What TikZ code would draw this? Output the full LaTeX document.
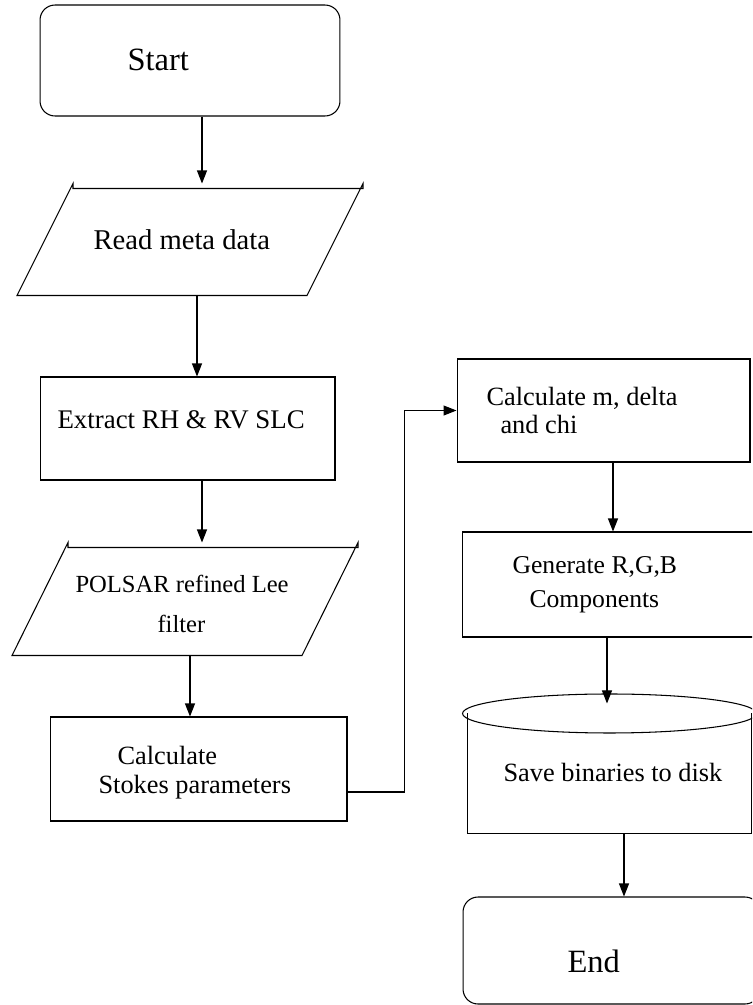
\documentclass[tikz,border=0pt]{standalone}
\usepackage{fontspec}
\setmainfont{Liberation Serif}
\usepackage{tikz}
\usetikzlibrary{positioning,calc,shapes.geometric,arrows.meta}

\begin{document}
\begin{tikzpicture}[x=0.02cm,y=-0.02cm,line width=0.6pt]
        \tikzstyle{box} = [draw,rectangle,inner sep=0pt]
        \tikzstyle{term} = [box,rounded corners=0.3cm]
        \tikzstyle{io} = [rectangle,inner sep=0pt,minimum width=5.78cm]
        \tikzstyle{txt} = [anchor=base west,inner sep=0pt]
        \tikzstyle{arr} = [-{Triangle[length=2.6mm,width=2mm]}]
        \useasboundingbox (0,0) rectangle (752,1005);
        \clip (0,0) rectangle (752,1005);
        % left column
        \node [term, minimum width=6cm, minimum height=2.22cm] (start) at (190,60.5) {};
        \node [io, minimum height=2.22cm] (read) at (190,239.5) {};
        \node [box, minimum width=5.9cm, minimum height=2.06cm] (extract) at (187.5,428.5) {};
        \node [io, minimum height=2.24cm] (lee) at (185,599) {};
        \node [box, minimum width=5.94cm, minimum height=2.08cm] (stokes) at (198.5,769) {};
        % right column
        \node [box, minimum width=5.86cm, minimum height=2.06cm] (mdelta) at (603.5,410.5) {};
        \node [box, minimum width=5.9cm, minimum height=2.1cm] (rgb) at (609.5,584.5) {};
        \node [rectangle, inner sep=0pt, minimum width=5.66cm, minimum height=2.38cm] (disk) at (609.5,773.5) {};
        \node [draw, ellipse, inner sep=0pt, minimum width=5.88cm, minimum height=0.78cm] (disktop) at (disk.north) {};
        \node [term, minimum width=5.94cm, minimum height=2.14cm] (end) at (611.5,950.5) {};
        \draw (disk.north west) -- (disk.south west) -- (disk.south east) -- (disk.north east);
        \foreach \n in {read,lee}{
          \draw ($(\n.south west)+(-28,0)$) -- ($(\n.north west)+(28,0)$) -- ++(0,5)
            -- ($(\n.north east)+(28,5)$) -- ++(0,-5) -- ($(\n.south east)+(-28,0)$) -- cycle;
        }
        % text lines: x/y of baseline start, size in pt
        \foreach \x/\y/\s/\t [count=\i] in {127/70/18.5/Start, 93/249/16.3/Read meta data,
            57/428/15.3/Extract RH \& RV SLC, 75/592/14/POLSAR refined Lee, 157/632/14/filter,
            117/764/15/Calculate, 98/793/15/Stokes parameters, 486/405/15/{Calculate m, delta},
            500/433/15/and chi, 512/573/14.6/{Generate R,G,B}, 529/607/14.6/Components,
            503/781/15/Save binaries to disk, 567/972/18.5/End}{
          \node [txt, font=\fontsize{\s}{20}\selectfont] (t\i) at (\x,\y) {\t};
        }
        \draw [arr] (start.south -| 202,0) -- (read.north -| 202,0);
        \draw [arr] (read.south -| 197,0) -- (extract.north -| 197,0);
        \draw [arr] (extract.south -| 202,0) -- (lee.north -| 202,0);
        \draw [arr] (lee.south -| 190,0) -- (stokes.north -| 190,0);
        \draw [arr] (stokes.east |- 0,792) -- ++(57,0) |- (mdelta.west);
        \draw [arr] (mdelta.south -| 613,0) -- (rgb.north -| 613,0);
        \draw [arr, shorten >=-0.2cm] (rgb.south -| 607,0) -- (disktop.north -| 607,0);
        \draw [arr] (disk.south -| 624,0) -- (end.north -| 624,0);
      \end{tikzpicture}
\end{document}
